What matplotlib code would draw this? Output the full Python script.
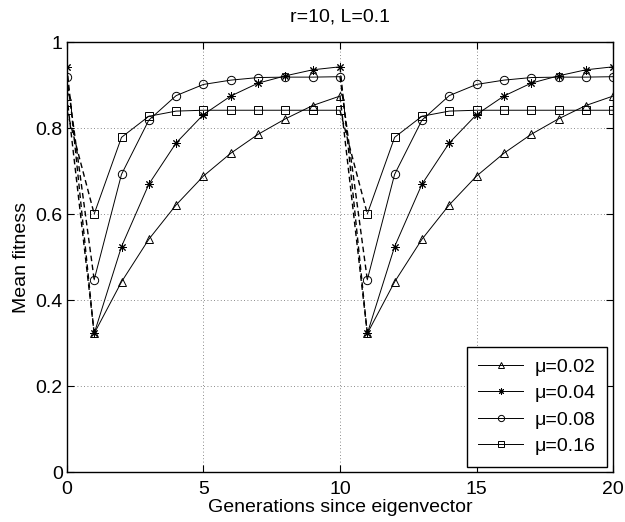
import matplotlib
matplotlib.use("Agg")
import matplotlib.pyplot as plt
import numpy as np

plt.rcParams['font.family'] = ['Liberation Sans', 'DejaVu Sans']

generations = list(range(0, 21))
# one cycle: value at eigenvector generation (0), then generations 1..9 after
mu002_cycle = [0.875, 0.323, 0.443, 0.542, 0.622, 0.689, 0.742, 0.786, 0.822, 0.853]
mu004_cycle = [0.943, 0.323, 0.525, 0.670, 0.766, 0.832, 0.875, 0.905, 0.922, 0.936]
mu008_cycle = [0.920, 0.448, 0.693, 0.819, 0.876, 0.902, 0.912, 0.918, 0.919, 0.919]
mu016_cycle = [0.842, 0.601, 0.779, 0.828, 0.840, 0.842, 0.842, 0.842, 0.842, 0.842]

series = {
    'μ=0.02': (mu002_cycle * 2 + [mu002_cycle[0]], '^'),
    'μ=0.04': (mu004_cycle * 2 + [mu004_cycle[0]], (8, 2, 0)),
    'μ=0.08': (mu008_cycle * 2 + [mu008_cycle[0]], 'o'),
    'μ=0.16': (mu016_cycle * 2 + [mu016_cycle[0]], 's'),
}

fig = plt.figure(figsize=(6.25, 5.22), dpi=100)
ax = fig.add_axes([0.107, 0.095, 0.874, 0.824])

x = np.array(generations)
for label, (vals, mk) in series.items():
    v = np.array(vals)
    # dashed drops after each eigenvector generation
    for start in (0, 10):
        ax.plot(x[start:start + 2], v[start:start + 2], color='black', lw=1.0,
                linestyle=(0, (4, 2.5)))
    # solid recovery curves
    for seg in (slice(1, 11), slice(11, 21)):
        ax.plot(x[seg], v[seg], '-', color='black', lw=0.7, marker=mk,
                markersize=6, markerfacecolor='none', markeredgecolor='black',
                markeredgewidth=0.7)
    ax.plot([0], [v[0]], linestyle='none', marker=mk, markersize=6,
            markerfacecolor='none', markeredgecolor='black', markeredgewidth=0.7)
    ax.plot([], [], '-', color='black', lw=0.7, marker=mk, markersize=4.5,
            markerfacecolor='none', markeredgecolor='black', markeredgewidth=0.7,
            label=label)

ax.set_xlim(0, 20)
ax.set_ylim(0, 1)
ax.set_xticks([0, 5, 10, 15, 20])
ax.set_yticks([0, 0.2, 0.4, 0.6, 0.8, 1])
ax.set_yticklabels(['0', '0.2', '0.4', '0.6', '0.8', '1'])
ax.tick_params(direction='in', top=True, right=True, labelsize=14, length=5, width=0.8)
ax.tick_params(axis='x', pad=6)
ax.tick_params(axis='y', pad=3)
ax.grid(True, linestyle=(0, (1, 3)), color='#666666', lw=0.6)
for s in ax.spines.values():
    s.set_linewidth(1.0)

ax.set_xlabel('Generations since eigenvector', fontsize=14, labelpad=1)
ax.set_ylabel('Mean fitness', fontsize=14, labelpad=4)
ax.set_title('r=10, L=0.1', fontsize=14, pad=15)

leg = ax.legend(loc='lower right', fontsize=14, frameon=True, fancybox=False,
                edgecolor='black', framealpha=1, borderaxespad=0.3,
                handlelength=2.3, labelspacing=0.45, borderpad=0.6,
                handletextpad=0.6)
leg.get_frame().set_linewidth(1.0)

fig.savefig('out.png', dpi=100)
